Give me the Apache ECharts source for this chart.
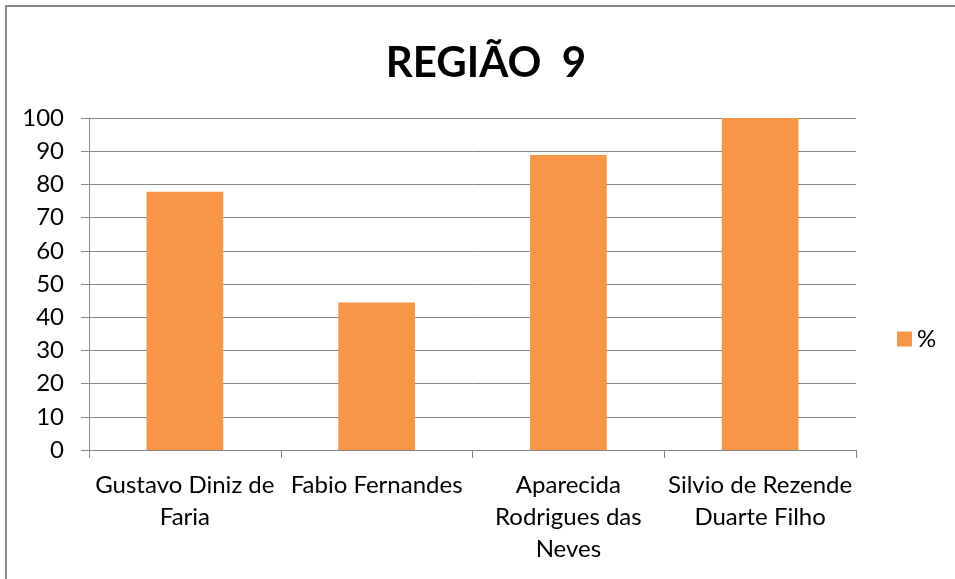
<!DOCTYPE html>
<html>
<head>
<meta charset="utf-8">
<script src="https://cdn.jsdelivr.net/npm/echarts@6/dist/echarts.min.js"></script>
<style>
html,body{margin:0;padding:0;background:#fff;}
#wrap{position:relative;width:955px;height:579px;overflow:hidden;}
#chart{position:absolute;left:0;top:0;width:955px;height:579px;}
#frame{position:absolute;left:5px;top:5px;width:960px;height:600px;border-left:2px solid #898989;border-top:2px solid #898989;pointer-events:none;}
</style>
</head>
<body>
<div id="wrap"><div id="chart"></div><div id="frame"></div></div>
<script>
const titleText = 'REGIÃO  9';
const categories = ['Gustavo Diniz de Faria', 'Fabio Fernandes', 'Aparecida Rodrigues das Neves', 'Silvio de Rezende Duarte Filho'];
const categoryLabels = ['Gustavo Diniz de\nFaria', 'Fabio Fernandes', 'Aparecida\nRodrigues das\nNeves', 'Silvio de Rezende\nDuarte Filho'];
const seriesName = '%';
const values = [77.78, 44.44, 88.89, 100];
const yTicks = {min: 0, max: 100, interval: 10};

const FONT = 'Lato, "Open Sans", sans-serif';
const chart = echarts.init(document.getElementById('chart'), null, {renderer: 'canvas'});
chart.setOption({
  animation: false,
  backgroundColor: '#ffffff',
  title: {
    text: titleText,
    left: 481, top: 37, textAlign: 'center',
    textStyle: {fontFamily: FONT, fontSize: 42, fontWeight: 'bold', color: '#000'}
  },
  legend: {
    data: [seriesName],
    orient: 'vertical',
    left: 892, top: 322,
    itemWidth: 15, itemHeight: 15, itemGap: 6,
    icon: 'rect',
    textStyle: {fontFamily: FONT, fontSize: 24, color: '#000'}
  },
  grid: {left: 89, right: 99, top: 118, bottom: 129, containLabel: false},
  xAxis: {
    type: 'category',
    data: categories,
    boundaryGap: true,
    axisLine: {lineStyle: {color: '#878787', width: 1}},
    axisTick: {show: true, length: 8, inside: false, alignWithLabel: false, lineStyle: {color: '#878787'}},
    axisLabel: {
      interval: 0, margin: 19, color: '#000',
      fontFamily: FONT, fontSize: 24, lineHeight: 32,
      formatter: function (v) { return categoryLabels[categories.indexOf(v)]; }
    }
  },
  yAxis: {
    type: 'value',
    min: yTicks.min, max: yTicks.max, interval: yTicks.interval,
    axisLine: {show: true, lineStyle: {color: '#878787', width: 1}},
    axisTick: {show: true, length: 8, lineStyle: {color: '#878787'}},
    splitLine: {show: true, lineStyle: {color: '#878787', width: 1}},
    axisLabel: {margin: 25, color: '#000', fontFamily: FONT, fontSize: 24}
  },
  series: [{
    name: seriesName,
    type: 'bar',
    data: values,
    barWidth: '40%',
    itemStyle: {color: '#F79646'}
  }]
});
</script>
</body>
</html>
